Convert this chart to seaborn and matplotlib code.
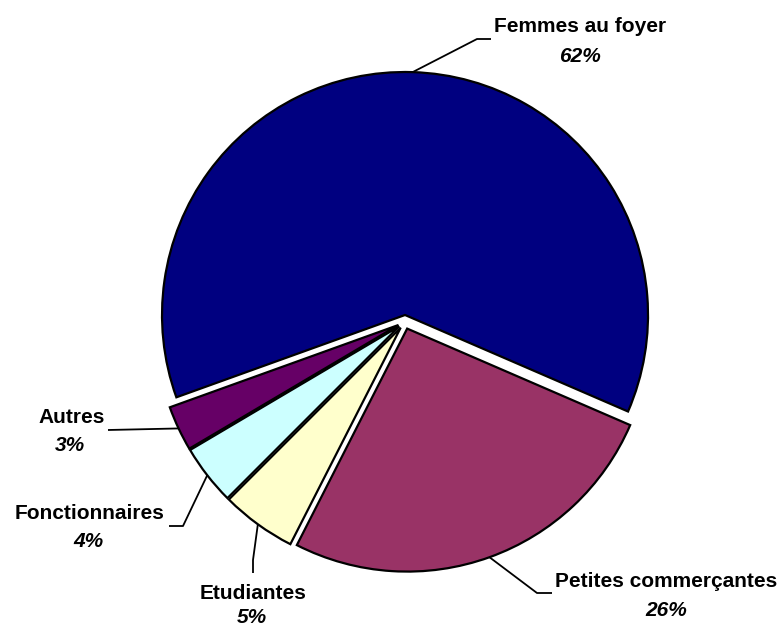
import numpy as np
import matplotlib
matplotlib.use("Agg")
import matplotlib.pyplot as plt
import seaborn as sns

# ---- data ----
categories = ["Femmes au foyer", "Autres", "Fonctionnaires", "Etudiantes", "Petites commerçantes"]
values = [62, 3, 4, 5, 26]
pct_labels = ["62%", "3%", "4%", "5%", "26%"]
colors = ["#000080", "#660066", "#CCFFFF", "#FFFFCC", "#993366"]

sns.set_theme(style="white")
plt.rcParams["font.family"] = ["Liberation Sans", "DejaVu Sans"]

W, H = 783, 626
fig = plt.figure(figsize=(W / 100, H / 100), dpi=100)
ax = fig.add_axes([0, 0, 1, 1])

def Y(y):
    return H - y

center = (404.8, Y(322))
radius = 243
wedges, _ = ax.pie(values, colors=colors, startangle=-23.4, counterclock=True,
                   radius=radius, center=center, explode=[7] * len(values),
                   wedgeprops=dict(edgecolor="black", linewidth=1.6),
                   frame=True)
ax.set_xlim(0, W)
ax.set_ylim(0, H)
ax.set_aspect("auto")
ax.axis("off")

# leader anchors computed from wedge geometry
def anchor(w, frac=1.0):
    th = np.deg2rad(0.5 * (w.theta1 + w.theta2))
    cx, cy = w.center
    return cx + w.r * frac * np.cos(th), cy + w.r * frac * np.sin(th)

# layout: (elbow points in pixel coords, text x, name baseline, pct x, pct baseline)
layout = {
    "Femmes au foyer": ([(477, 39), (491, 39)], 580, 32, 580, 62),
    "Autres": ([(108, 430)], 72, 423, 70, 451),
    "Fonctionnaires": ([(183, 526), (169, 526)], 89.5, 519, 88.5, 547),
    "Etudiantes": ([(253, 560), (253, 573)], 253.5, 599, 252, 623),
    "Petites commerçantes": ([(537, 593), (552, 593)], 666, 587, 666, 616),
}

for w, cat, pct in zip(wedges, categories, pct_labels):
    pts, tx, ty, px, py = layout[cat]
    ax0, ay0 = anchor(w)
    xs = [ax0] + [p[0] for p in pts]
    ys = [ay0] + [Y(p[1]) for p in pts]
    ax.plot(xs, ys, color="black", lw=1.3, solid_capstyle="butt")
    ax.text(tx, Y(ty), cat, ha="center", va="baseline", fontsize=15,
            fontweight="bold", color="black")
    ax.text(px, Y(py), pct, ha="center", va="baseline", fontsize=15,
            fontweight="bold", fontstyle="italic", color="black")

fig.savefig("out.png", dpi=100, facecolor="white")
